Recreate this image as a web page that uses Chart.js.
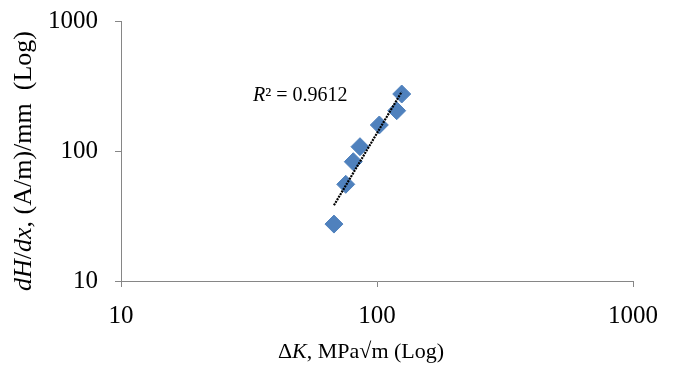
<!DOCTYPE html>
<html>
<head>
<meta charset="utf-8">
<script src="https://cdn.jsdelivr.net/npm/chart.js@4.4.1/dist/chart.umd.min.js"></script>
<style>
  body { margin: 0; background: #fff; }
  #wrap { width: 678px; height: 365px; }
</style>
</head>
<body>
<div id="wrap"><canvas id="chart" width="678" height="365"></canvas></div>
<script>
// values
const deltaK = [67.9, 75.5, 80.8, 85.8, 102.1, 119.4, 124.9];
const dHdx = [27.4, 55.4, 82.7, 107.9, 158.5, 204.2, 274.4];
const xTicks = [10, 100, 1000];
const yTicks = [10, 100, 1000];
const rSquaredText = '0.9612';

const serif = '"Liberation Serif", "Times New Roman", serif';
const axisGray = '#868686';
const markerBlue = '#4F81BD';

// power-law trendline (straight in log-log), least squares on the logs
const lx = deltaK.map(v => Math.log10(v));
const ly = dHdx.map(v => Math.log10(v));
const mx = lx.reduce((a, b) => a + b, 0) / lx.length;
const my = ly.reduce((a, b) => a + b, 0) / ly.length;
let sxy = 0, sxx = 0;
lx.forEach((v, i) => { sxy += (v - mx) * (ly[i] - my); sxx += (v - mx) * (v - mx); });
const slope = sxy / sxx;
const fitAt = x => Math.pow(10, my + slope * (Math.log10(x) - mx));
const xMin = Math.min(...deltaK), xMax = Math.max(...deltaK);
const trend = [{ x: xMin, y: fitAt(xMin) }, { x: xMax, y: fitAt(xMax) }];

// draws a line of text made of italic / upright pieces
function drawParts(ctx, parts, x, y, size, align) {
  let total = 0;
  const widths = parts.map(p => {
    ctx.font = (p[1] ? 'italic ' : '') + size + 'px ' + serif;
    const w = ctx.measureText(p[0]).width;
    total += w;
    return w;
  });
  let cx = align === 'left' ? x : x - total / 2;
  parts.forEach((p, i) => {
    ctx.font = (p[1] ? 'italic ' : '') + size + 'px ' + serif;
    ctx.fillText(p[0], cx, y);
    cx += widths[i];
  });
}

const labelsPlugin = {
  id: 'labels',
  afterDraw(chart) {
    const ctx = chart.ctx;
    ctx.save();
    ctx.fillStyle = '#000';
    ctx.textAlign = 'left';
    ctx.textBaseline = 'middle';
    // x axis title
    drawParts(ctx, [['Δ', false], ['K', true], [', MPa√m (Log)', false]], 361, 352, 22);
    // y axis title
    ctx.save();
    ctx.translate(24, 161);
    ctx.rotate(-Math.PI / 2);
    drawParts(ctx, [['dH', true], ['/', false], ['dx', true], [', (A/m)/mm  (Log)', false]], 0, 0, 26);
    ctx.restore();
    // R² label
    ctx.textBaseline = 'alphabetic';
    drawParts(ctx, [['R', true], ['² = ' + rSquaredText, false]], 253, 101, 20, 'left');
    ctx.restore();
  }
};

new Chart(document.getElementById('chart'), {
  type: 'scatter',
  data: {
    datasets: [
      {
        type: 'line',
        data: trend,
        borderColor: '#000',
        borderWidth: 2.2,
        borderDash: [2, 1],
        pointRadius: 0,
        fill: false,
        order: 0
      },
      {
        data: deltaK.map((v, i) => ({ x: v, y: dHdx[i] })),
        pointStyle: 'rectRot',
        pointRadius: 9,
        pointBackgroundColor: markerBlue,
        pointBorderColor: markerBlue,
        pointBorderWidth: 1,
        order: 1
      }
    ]
  },
  options: {
    responsive: false,
    animation: false,
    layout: { padding: { top: 21, right: 45, left: 0, bottom: 0 } },
    plugins: { legend: { display: false }, tooltip: { enabled: false } },
    scales: {
      x: {
        type: 'logarithmic',
        min: 10,
        max: 1000,
        afterBuildTicks: s => { s.ticks = xTicks.map(v => ({ value: v })); },
        afterFit: s => { s.height = 84; s.paddingLeft = 0; s.paddingRight = 0; },
        border: { color: axisGray, width: 1 },
        grid: { drawOnChartArea: false, color: axisGray, tickLength: 6 },
        ticks: {
          color: '#000',
          font: { family: serif, size: 25 },
          padding: 14,
          maxRotation: 0,
          callback: v => String(v)
        }
      },
      y: {
        type: 'logarithmic',
        min: 10,
        max: 1000,
        afterBuildTicks: s => { s.ticks = yTicks.map(v => ({ value: v })); },
        afterFit: s => { s.width = 121; s.paddingTop = 0; s.paddingBottom = 0; },
        border: { color: axisGray, width: 1 },
        grid: { drawOnChartArea: false, color: axisGray, tickLength: 6 },
        ticks: {
          color: '#000',
          font: { family: serif, size: 25 },
          padding: 17,
          callback: v => String(v)
        }
      }
    }
  },
  plugins: [labelsPlugin]
});
</script>
</body>
</html>
